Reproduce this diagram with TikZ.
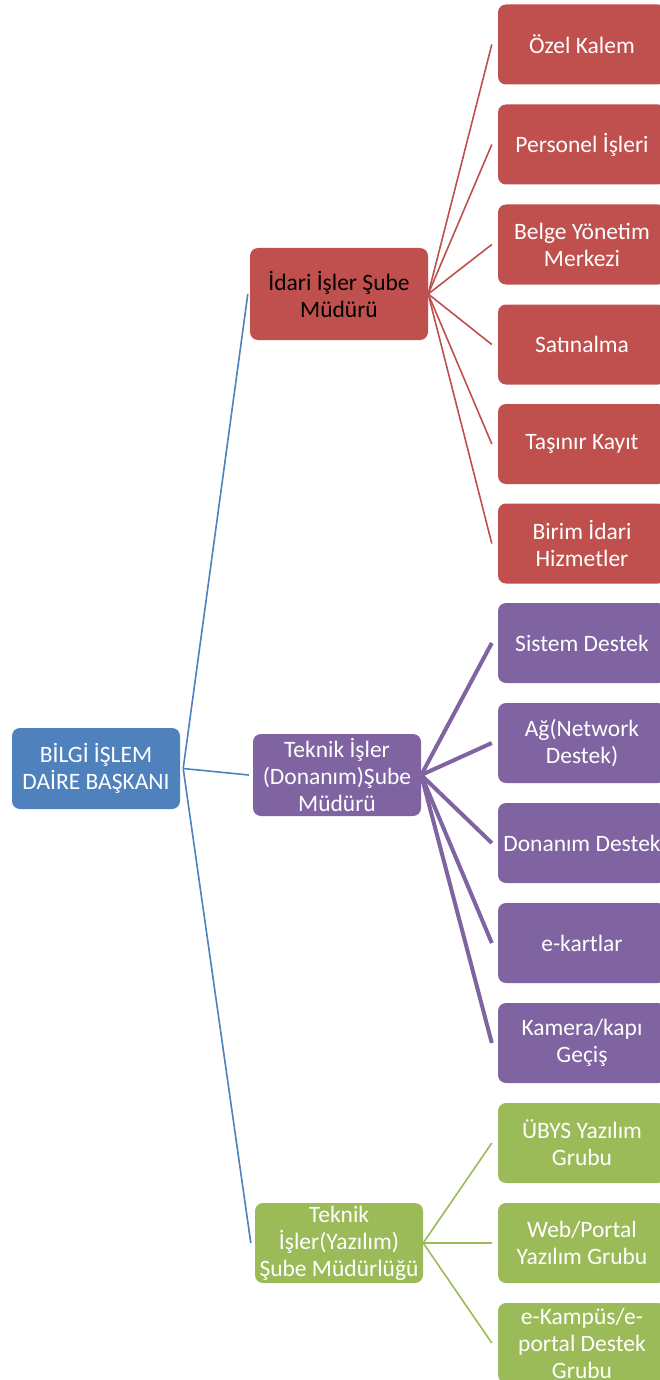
\documentclass[tikz,border=0pt]{standalone}
\usepackage{fontspec}
\setmainfont{Carlito}
\definecolor{cblue}{HTML}{4F81BD}
\definecolor{cred}{HTML}{C0504D}
\definecolor{cpurple}{HTML}{8064A2}
\definecolor{cgreen}{HTML}{9BBB59}
\tikzset{
  box/.style={rectangle, rounded corners=8pt, inner sep=0pt, align=center, text=white,
    font=\fontsize{23.5}{27}\selectfont},
  rootbox/.style={box, fill=cblue, minimum width=168pt, minimum height=81pt},
  kid/.style={box, minimum width=168pt, minimum height=80pt},
  redkid/.style={kid, fill=cred},
  purplekid/.style={kid, fill=cpurple},
  greenkid/.style={kid, fill=cgreen},
  blueline/.style={draw=cblue, line width=1.6pt},
  redline/.style={draw=cred, line width=1.6pt},
  purpleline/.style={draw=cpurple, line width=4pt},
  greenline/.style={draw=cgreen, line width=1.6pt},
}
\begin{document}
\begin{tikzpicture}[x=1pt, y=-1pt]
\clip (0,0) rectangle (660,1380);
\fill[white] (0,0) rectangle (660,1380);
% root
\node[rootbox] (root) at (96,768.5) {BİLGİ İŞLEM\\DAİRE BAŞKANI};
% mid level
\node[box, fill=cred, text=black, minimum width=178pt, minimum height=92pt] (idari) at (339,294) {İdari İşler Şube\\Müdürü};
\node[box, fill=cpurple, minimum width=168pt, minimum height=82pt] (donanim) at (337,775) {Teknik İşler\\(Donanım)Şube\\Müdürü};
\node[box, fill=cgreen, minimum width=168pt, minimum height=80pt] (yazilim) at (339,1243) {Teknik\\İşler(Yazılım)\\Şube Müdürlüğü};
% red children
\node[redkid] (ozel) at (582,44.5) {Özel Kalem};
\node[redkid] (personel) at (582,144.5) {Personel İşleri};
\node[redkid] (belge) at (582,244.5) {Belge Yönetim\\Merkezi};
\node[redkid] (satin) at (582,344.5) {Satınalma};
\node[redkid] (tasinir) at (582,444) {Taşınır Kayıt};
\node[redkid] (birim) at (582,543.5) {Birim İdari\\Hizmetler};
% purple children
\node[purplekid] (sistem) at (582,643) {Sistem Destek};
\node[purplekid] (ag) at (582,743) {Ağ(Network\\Destek)};
\node[purplekid] (dondestek) at (582,843) {Donanım Destek};
\node[purplekid] (ekart) at (582,943) {e-kartlar};
\node[purplekid] (kamera) at (582,1043) {Kamera/kapı\\Geçiş};
% green children
\node[greenkid] (ubys) at (582,1143) {ÜBYS Yazılım\\Grubu};
\node[greenkid] (web) at (582,1243) {Web/Portal\\Yazılım Grubu};
\node[greenkid] (ekampus) at (582,1343) {e-Kampüs/e-\\portal Destek\\Grubu};
% connectors root -> mid
\draw[blueline] ([xshift=3pt]root.east) -- ([xshift=-2pt]idari.west);
\draw[blueline] ([xshift=3pt]root.east) -- ([xshift=-4pt]donanim.west);
\draw[blueline] ([xshift=3pt]root.east) -- ([xshift=-4pt]yazilim.west);
% red
\foreach \c in {ozel,personel,belge,satin,tasinir,birim}
  \draw[redline] (idari.east) -- ([xshift=-6pt]\c.west);
% purple
\foreach \c in {sistem,ag,dondestek,ekart,kamera}
  \draw[purpleline] (donanim.east) -- ([xshift=-6pt]\c.west);
% green
\foreach \c in {ubys,web,ekampus}
  \draw[greenline] (yazilim.east) -- ([xshift=-6pt]\c.west);
\end{tikzpicture}
\end{document}
